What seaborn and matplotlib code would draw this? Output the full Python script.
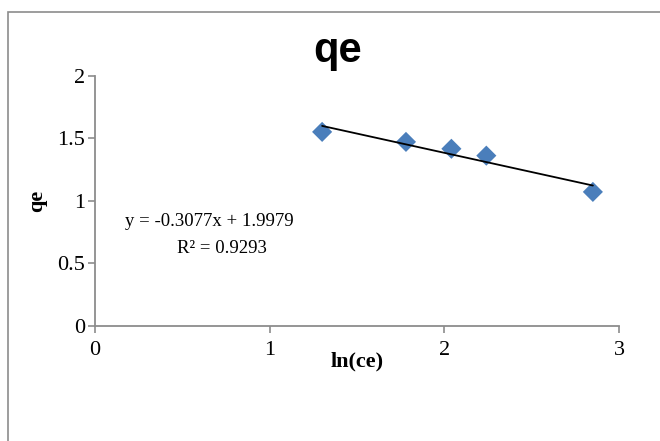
import matplotlib
matplotlib.use("Agg")
import matplotlib.pyplot as plt
import seaborn as sns
import pandas as pd
import numpy as np
from matplotlib.patches import Rectangle

# Data
ln_ce = [1.30, 1.78, 2.04, 2.24, 2.85]
qe = [1.55, 1.47, 1.415, 1.36, 1.07]
slope = -0.3077
intercept = 1.9979
r2 = 0.9293
x_ticks = [0, 1, 2, 3]
y_ticks = [0, 0.5, 1, 1.5, 2]
y_tick_labels = ["0", "0.5", "1", "1.5", "2"]

sns.set_theme(style="white")
plt.rcParams['font.family'] = ['Liberation Serif', 'DejaVu Serif']

fig = plt.figure(figsize=(6.6, 4.41), dpi=100)
ax = fig.add_axes([0.144, 0.2615, 0.794, 0.567])

df = pd.DataFrame({"ln(ce)": ln_ce, "qe": qe})
sns.scatterplot(data=df, x="ln(ce)", y="qe", marker="D", s=105,
                color="#4A7EBB", edgecolor="none", ax=ax, zorder=3)

line_x = np.array([min(ln_ce), max(ln_ce)])
line_df = pd.DataFrame({"x": line_x, "y": slope * line_x + intercept})
sns.lineplot(data=line_df, x="x", y="y", color="black", linewidth=1.3, ax=ax, zorder=4)

ax.set_xlim(0, 3)
ax.set_ylim(0, 2)
ax.set_xticks(x_ticks)
ax.set_yticks(y_ticks)
ax.set_yticklabels(y_tick_labels)
ax.tick_params(axis="both", labelsize=16, colors="black", direction="out",
               length=5, width=1.2, color="#8C8C8C", bottom=True, left=True)
ax.tick_params(axis="x", pad=6)
ax.tick_params(axis="y", pad=2)
for s in ["top", "right"]:
    ax.spines[s].set_visible(False)
for s in ["left", "bottom"]:
    ax.spines[s].set_color("#8C8C8C")
    ax.spines[s].set_linewidth(1.3)

ax.set_xlabel("ln(ce)", fontsize=16, fontweight="bold", color="black")
ax.set_ylabel("qe", fontsize=16, fontweight="bold", color="black")
ax.xaxis.label.set_va("center")
ax.yaxis.label.set_va("center")
ax.xaxis.set_label_coords(0.5, -0.145)
ax.yaxis.set_label_coords(-0.11, 0.5)

fig.text(0.511, 1 - 61.7 / 441, "qe", fontsize=30, fontweight="bold", color="black",
         family=["Liberation Sans", "DejaVu Sans"], ha="center", va="baseline")

ax.text(0.057, 0.415, f"y = {slope}x + {intercept}", transform=ax.transAxes,
        fontsize=13.5, ha="left", va="center", color="black")
ax.text(0.156, 0.31, f"R² = {r2}", transform=ax.transAxes,
        fontsize=13.5, ha="left", va="center", color="black")

fig.patches.append(Rectangle((8 / 660, -0.05), 1.2, 1 - 11.5 / 441 + 0.05, transform=fig.transFigure,
                             fill=False, edgecolor="#8C8C8C", linewidth=1.2))

fig.savefig("out.png", dpi=100)
